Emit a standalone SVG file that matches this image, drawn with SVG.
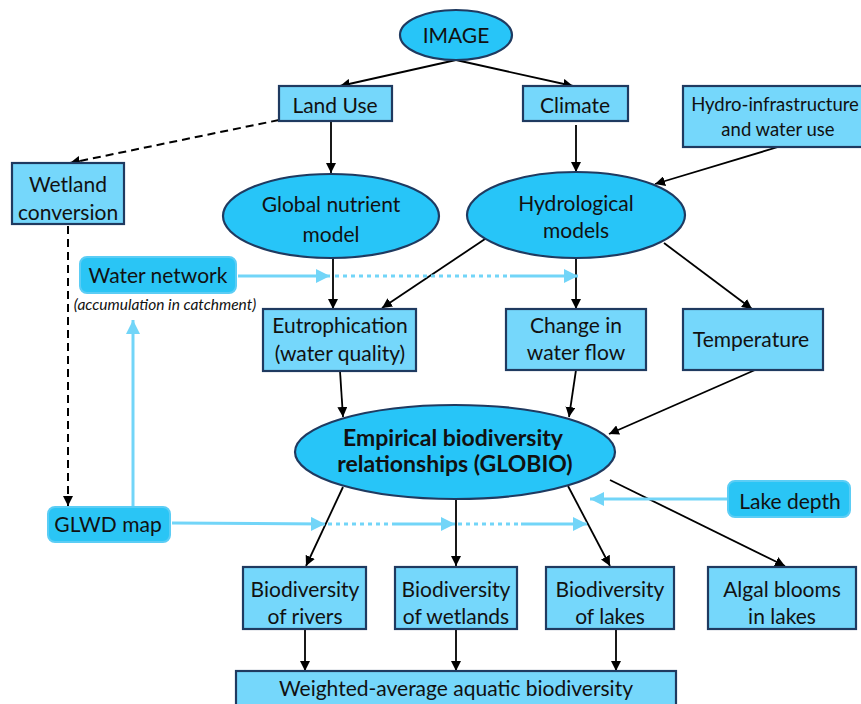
<svg xmlns="http://www.w3.org/2000/svg" width="861" height="704" viewBox="0 0 861 704">
<defs>
<style>
.box{fill:#75D7FB;stroke:#1F3A60;stroke-width:2.2}
.ell{fill:#27C5F8;stroke:#1F3A60;stroke-width:2.2}
.rnd{fill:#2AC5F5;stroke:#5BCDF5;stroke-width:2}
text{font-family:"Lato","Open Sans","Liberation Sans",sans-serif;font-size:21px;fill:#111;text-anchor:middle;dominant-baseline:central}
.b{font-weight:bold;font-size:23px}
.it{font-style:italic;font-size:15.5px}
.sm{font-size:18.5px}
.ln{stroke:#000;stroke-width:1.8;fill:none}
.dash{stroke:#000;stroke-width:2;fill:none;stroke-dasharray:8 5}
.lb{stroke:#72D5F8;stroke-width:3;fill:none}
.dot{stroke:#72D5F8;stroke-width:3;fill:none;stroke-dasharray:4 4}
</style>
<marker id="ah" viewBox="0 0 10 10" refX="10" refY="5" markerWidth="10" markerHeight="10" markerUnits="userSpaceOnUse" orient="auto"><path d="M0,0 L10,5 L0,10 Z" fill="#000"/></marker>
<marker id="ahl" viewBox="0 0 10 10" refX="10" refY="5" markerWidth="14" markerHeight="14" markerUnits="userSpaceOnUse" orient="auto"><path d="M0,0 L10,5 L0,10 Z" fill="#72D5F8"/></marker>
</defs>
<rect width="861" height="704" fill="#fff"/>
<g id="connectors">
<line class="ln" x1="456" y1="60" x2="340" y2="86" marker-end="url(#ah)"/>
<line class="ln" x1="456" y1="60" x2="573" y2="86" marker-end="url(#ah)"/>
<line class="dash" x1="279" y1="120" x2="70" y2="163" marker-end="url(#ah)"/>
<line class="ln" x1="331" y1="121" x2="331" y2="173" marker-end="url(#ah)"/>
<line class="ln" x1="576" y1="125" x2="576" y2="172" marker-end="url(#ah)"/>
<line class="ln" x1="778" y1="147" x2="655" y2="184" marker-end="url(#ah)"/>
<line class="dash" x1="68" y1="226" x2="68" y2="506" marker-end="url(#ah)"/>
<line class="ln" x1="333" y1="258" x2="333" y2="309" marker-end="url(#ah)"/>
<line class="ln" x1="488" y1="237" x2="382" y2="308" marker-end="url(#ah)"/>
<line class="ln" x1="576" y1="258" x2="576" y2="309" marker-end="url(#ah)"/>
<line class="ln" x1="664" y1="243" x2="752" y2="309" marker-end="url(#ah)"/>
<line class="ln" x1="340" y1="371" x2="343" y2="417" marker-end="url(#ah)"/>
<line class="ln" x1="576" y1="370" x2="569" y2="417" marker-end="url(#ah)"/>
<line class="ln" x1="755" y1="370" x2="609" y2="434" marker-end="url(#ah)"/>
<line class="ln" x1="343" y1="487" x2="306" y2="566" marker-end="url(#ah)"/>
<line class="ln" x1="456" y1="499" x2="456" y2="566" marker-end="url(#ah)"/>
<line class="ln" x1="568" y1="486" x2="610" y2="566" marker-end="url(#ah)"/>
<line class="ln" x1="610" y1="480" x2="785" y2="566" marker-end="url(#ah)"/>
<line class="ln" x1="305" y1="629" x2="305" y2="671" marker-end="url(#ah)"/>
<line class="ln" x1="456" y1="629" x2="456" y2="671" marker-end="url(#ah)"/>
<line class="ln" x1="616" y1="629" x2="616" y2="671" marker-end="url(#ah)"/>
<line class="lb" x1="238" y1="276" x2="330" y2="276" marker-end="url(#ahl)"/>
<line class="dot" x1="335" y1="276" x2="508" y2="276"/>
<line class="lb" x1="510" y1="276" x2="578" y2="276" marker-end="url(#ahl)"/>
<line class="lb" x1="133" y1="506" x2="133" y2="320" marker-end="url(#ahl)"/>
<line class="lb" x1="172" y1="523" x2="325" y2="524" marker-end="url(#ahl)"/>
<line class="dot" x1="328" y1="524" x2="389" y2="524"/>
<line class="lb" x1="392" y1="524" x2="455" y2="524" marker-end="url(#ahl)"/>
<line class="dot" x1="458" y1="524" x2="519" y2="524"/>
<line class="lb" x1="521" y1="524" x2="587" y2="524" marker-end="url(#ahl)"/>
<line class="lb" x1="728" y1="499" x2="590" y2="499" marker-end="url(#ahl)"/>
</g>
<g id="image"><ellipse class="ell" cx="456" cy="35" rx="56" ry="25"/><text x="456" y="34">IMAGE</text></g>
<g id="landuse"><rect class="box" x="279" y="86" width="113" height="35"/><text x="335" y="104">Land Use</text></g>
<g id="climate"><rect class="box" x="523" y="86" width="105" height="35"/><text x="575" y="104">Climate</text></g>
<g id="hydroinfra"><rect class="box" x="683" y="86" width="190" height="61"/><text class="sm" x="775" y="104">Hydro-infrastructure</text><text class="sm" x="778" y="129">and water use</text></g>
<g id="wetland"><rect class="box" x="12" y="163" width="112" height="61"/><text x="68" y="183">Wetland</text><text x="68" y="211">conversion</text></g>
<g id="nutrient"><ellipse class="ell" cx="331" cy="216" rx="108" ry="42"/><text x="331" y="203">Global nutrient</text><text x="331" y="233">model</text></g>
<g id="hydro"><ellipse class="ell" cx="576" cy="215" rx="109" ry="43"/><text x="576" y="202">Hydrological</text><text x="576" y="229">models</text></g>
<g id="waternetwork"><rect class="rnd" x="80" y="257" width="156" height="36" rx="7"/><text x="158" y="274">Water network</text><text class="it" x="165" y="304">(accumulation in catchment)</text></g>
<g id="eutro"><rect class="box" x="263" y="309" width="153" height="62"/><text x="340" y="324">Eutrophication</text><text x="340" y="352">(water quality)</text></g>
<g id="flow"><rect class="box" x="506" y="309" width="140" height="61"/><text x="576" y="324">Change in</text><text x="576" y="351">water flow</text></g>
<g id="temp"><rect class="box" x="683" y="309" width="140" height="61"/><text x="751" y="338">Temperature</text></g>
<g id="globio"><ellipse class="ell" cx="455" cy="452" rx="160" ry="47"/><text class="b" x="453" y="437">Empirical biodiversity</text><text class="b" x="455" y="463">relationships (GLOBIO)</text></g>
<g id="glwd"><rect class="rnd" x="48" y="507" width="122" height="35" rx="7"/><text x="108" y="523">GLWD map</text></g>
<g id="lakedepth"><rect class="rnd" x="728" y="481" width="122" height="36" rx="7"/><text x="790" y="500">Lake depth</text></g>
<g id="rivers"><rect class="box" x="243" y="567" width="123" height="62"/><text x="305" y="588">Biodiversity</text><text x="305" y="615">of rivers</text></g>
<g id="wetlands"><rect class="box" x="395" y="567" width="122" height="62"/><text x="456" y="588">Biodiversity</text><text x="456" y="615">of wetlands</text></g>
<g id="lakes"><rect class="box" x="546" y="567" width="128" height="62"/><text x="610" y="588">Biodiversity</text><text x="610" y="615">of lakes</text></g>
<g id="algal"><rect class="box" x="708" y="567" width="148" height="62"/><text x="782" y="588">Algal blooms</text><text x="782" y="615">in lakes</text></g>
<g id="weighted"><rect class="box" x="236" y="671" width="440" height="40"/><text x="456" y="687">Weighted-average aquatic biodiversity</text></g>
</svg>
